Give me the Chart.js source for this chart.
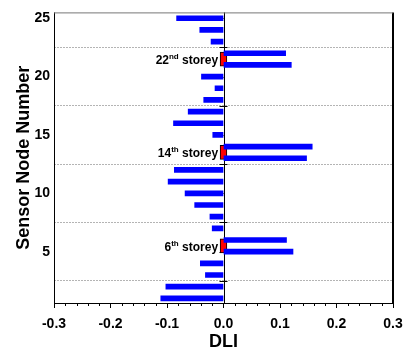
<!DOCTYPE html>
<html lang="en">
<head>
    <meta charset="UTF-8">
    <title>DLI per sensor node</title>
    <script src="https://cdn.jsdelivr.net/npm/chart.js"></script>
    <style>
        html, body { margin: 0; padding: 0; background: #fff; }
        #wrap { width: 403px; height: 347px; }
    </style>
</head>
<body>
    <div id="wrap"><canvas id="chart"></canvas></div>

    <script>
        // node numbers and their DLI values
        const nodes = [1, 2, 3, 4, 5, 6, 7, 8, 9, 10, 11, 12, 13, 14, 15, 16, 17, 18, 19, 20, 21, 22, 23, 24, 25];
        const dli = [-0.111, -0.102, -0.032, -0.041, 0.123, 0.1115, -0.020, -0.024, -0.051, -0.068,
                     -0.098, -0.087, 0.147, 0.157, -0.019, -0.0885, -0.0625, -0.035, -0.015, -0.039,
                     0.120, 0.110, -0.022, -0.042, -0.083];

        // storey markers (red boxes) and their labels
        const storeyPos = [5.5, 13.5, 21.5];
        const storeyNum = ['6', '14', '22'];
        const storeySup = ['th', 'th', 'nd'];
        const storeyBox = [-0.006, 0.006];

        // ticks
        const xTicks = [-0.3, -0.2, -0.1, 0.0, 0.1, 0.2, 0.3];
        const yTicks = [2.5, 5, 7.5, 10, 12.5, 15, 17.5, 20, 22.5, 25];

        const FONT = '"Liberation Sans", Arial, sans-serif';

        const decor = {
            id: 'decor',
            beforeDatasetsDraw(chart) {
                const { ctx, chartArea: a, scales: { x, y } } = chart;
                const x0 = x.getPixelForValue(0);
                ctx.save();
                ctx.strokeStyle = '#000';
                ctx.lineWidth = 1;
                ctx.beginPath();
                ctx.moveTo(Math.round(x0) + 0.5, a.top);
                ctx.lineTo(Math.round(x0) + 0.5, a.bottom);
                // small marks on the zero line
                yTicks.forEach(v => {
                    const py = Math.round(y.getPixelForValue(v)) + 0.5;
                    ctx.moveTo(x0 - 4, py);
                    ctx.lineTo(x0 + (v % 5 === 0 ? 0 : 4), py);
                });
                ctx.stroke();
                // minor ticks on the x axis
                ctx.beginPath();
                for (let i = -15; i <= 15; i++) {
                    if (i % 5 === 0) continue;
                    const px = Math.round(x.getPixelForValue(i * 0.02)) + 0.5;
                    ctx.moveTo(px, a.bottom);
                    ctx.lineTo(px, a.bottom + 3);
                }
                ctx.stroke();
                ctx.restore();
            },
            afterDatasetsDraw(chart) {
                const { ctx, chartArea: a, scales: { x, y } } = chart;
                ctx.save();
                // frame
                ctx.strokeStyle = '#000';
                ctx.lineWidth = 1;
                ctx.beginPath();
                ctx.moveTo(a.left + 0.5, a.top);
                ctx.lineTo(a.left + 0.5, a.bottom + 0.5);
                ctx.lineTo(a.right, a.bottom + 0.5);
                ctx.stroke();
                ctx.lineWidth = 2;
                ctx.beginPath();
                ctx.moveTo(a.right, a.top);
                ctx.lineTo(a.right, a.bottom + 1);
                ctx.stroke();
                ctx.strokeStyle = '#777';
                ctx.lineWidth = 1;
                ctx.beginPath();
                ctx.moveTo(a.left, a.top + 0.5);
                ctx.lineTo(a.right, a.top + 0.5);
                ctx.stroke();

                // storey labels
                ctx.fillStyle = '#000';
                ctx.textBaseline = 'alphabetic';
                const right = x.getPixelForValue(storeyBox[0]) - 2;
                storeyPos.forEach((p, i) => {
                    const base = y.getPixelForValue(p) + 5;
                    ctx.font = 'bold 12px ' + FONT;
                    const wRest = ctx.measureText(' storey').width;
                    const wNum = ctx.measureText(storeyNum[i]).width;
                    ctx.font = 'bold 8px ' + FONT;
                    const wSup = ctx.measureText(storeySup[i]).width;
                    let px = right - wRest - wSup - wNum;
                    ctx.font = 'bold 12px ' + FONT;
                    ctx.fillText(storeyNum[i], px, base);
                    px += wNum;
                    ctx.font = 'bold 8px ' + FONT;
                    ctx.fillText(storeySup[i], px, base - 5);
                    px += wSup;
                    ctx.font = 'bold 12px ' + FONT;
                    ctx.fillText(' storey', px, base);
                });
                ctx.restore();
            }
        };

        const ctx = document.getElementById('chart').getContext('2d');
        const chart = new Chart(ctx, {
            type: 'bar',
            data: {
                datasets: [{
                    label: 'DLI',
                    data: nodes.map((n, i) => ({ x: dli[i], y: n })),
                    backgroundColor: '#0000ff',
                    borderWidth: 0,
                    barThickness: 5,
                    grouped: false
                }, {
                    label: 'Storey',
                    data: storeyPos.map(p => ({ x: storeyBox, y: p })),
                    backgroundColor: '#ff0000',
                    borderColor: '#000',
                    borderWidth: 1,
                    borderSkipped: false,
                    barThickness: 14,
                    grouped: false
                }]
            },
            options: {
                indexAxis: 'y',
                responsive: true,
                maintainAspectRatio: false,
                animation: false,
                layout: { padding: { top: 12, right: 10, left: 0, bottom: 0 } },
                plugins: {
                    legend: { display: false },
                    tooltip: { enabled: false }
                },
                scales: {
                    x: {
                        type: 'linear',
                        min: -0.3,
                        max: 0.3,
                        afterBuildTicks: s => { s.ticks = xTicks.map(v => ({ value: v })); },
                        afterFit: s => { s.height = 44; s.paddingLeft = 0; s.paddingRight = 0; },
                        border: { display: false },
                        grid: { drawOnChartArea: false, drawTicks: true, tickLength: 5, tickColor: '#000' },
                        ticks: {
                            color: '#000',
                            padding: 8,
                            maxRotation: 0,
                            font: { family: FONT, size: 14, weight: 'bold' },
                            callback: v => v.toFixed(1)
                        },
                        title: {
                            display: true,
                            text: 'DLI',
                            color: '#000',
                            font: { family: FONT, size: 18, weight: 'bold' },
                            padding: { top: 0, bottom: -6 }
                        }
                    },
                    y: {
                        type: 'linear',
                        min: 0.6,
                        max: 25.5,
                        offset: false,
                        afterBuildTicks: s => { s.ticks = yTicks.map(v => ({ value: v })); },
                        afterFit: s => { s.width = 54; },
                        border: { display: false, dash: [2, 1] },
                        grid: {
                            offset: false,
                            drawTicks: false,
                            color: c => (c.tick && c.tick.value % 5 !== 0) ? '#b4b4b4' : 'rgba(0,0,0,0)'
                        },
                        ticks: {
                            color: '#000',
                            padding: 4,
                            font: { family: FONT, size: 14, weight: 'bold' },
                            callback: v => (v % 5 === 0 ? v : '')
                        },
                        title: {
                            display: true,
                            text: 'Sensor Node Number',
                            color: '#000',
                            font: { family: FONT, size: 18, weight: 'bold' },
                            padding: { top: 13, bottom: 0 }
                        }
                    }
                }
            },
            plugins: [decor]
        });
    </script>
</body>
</html>
